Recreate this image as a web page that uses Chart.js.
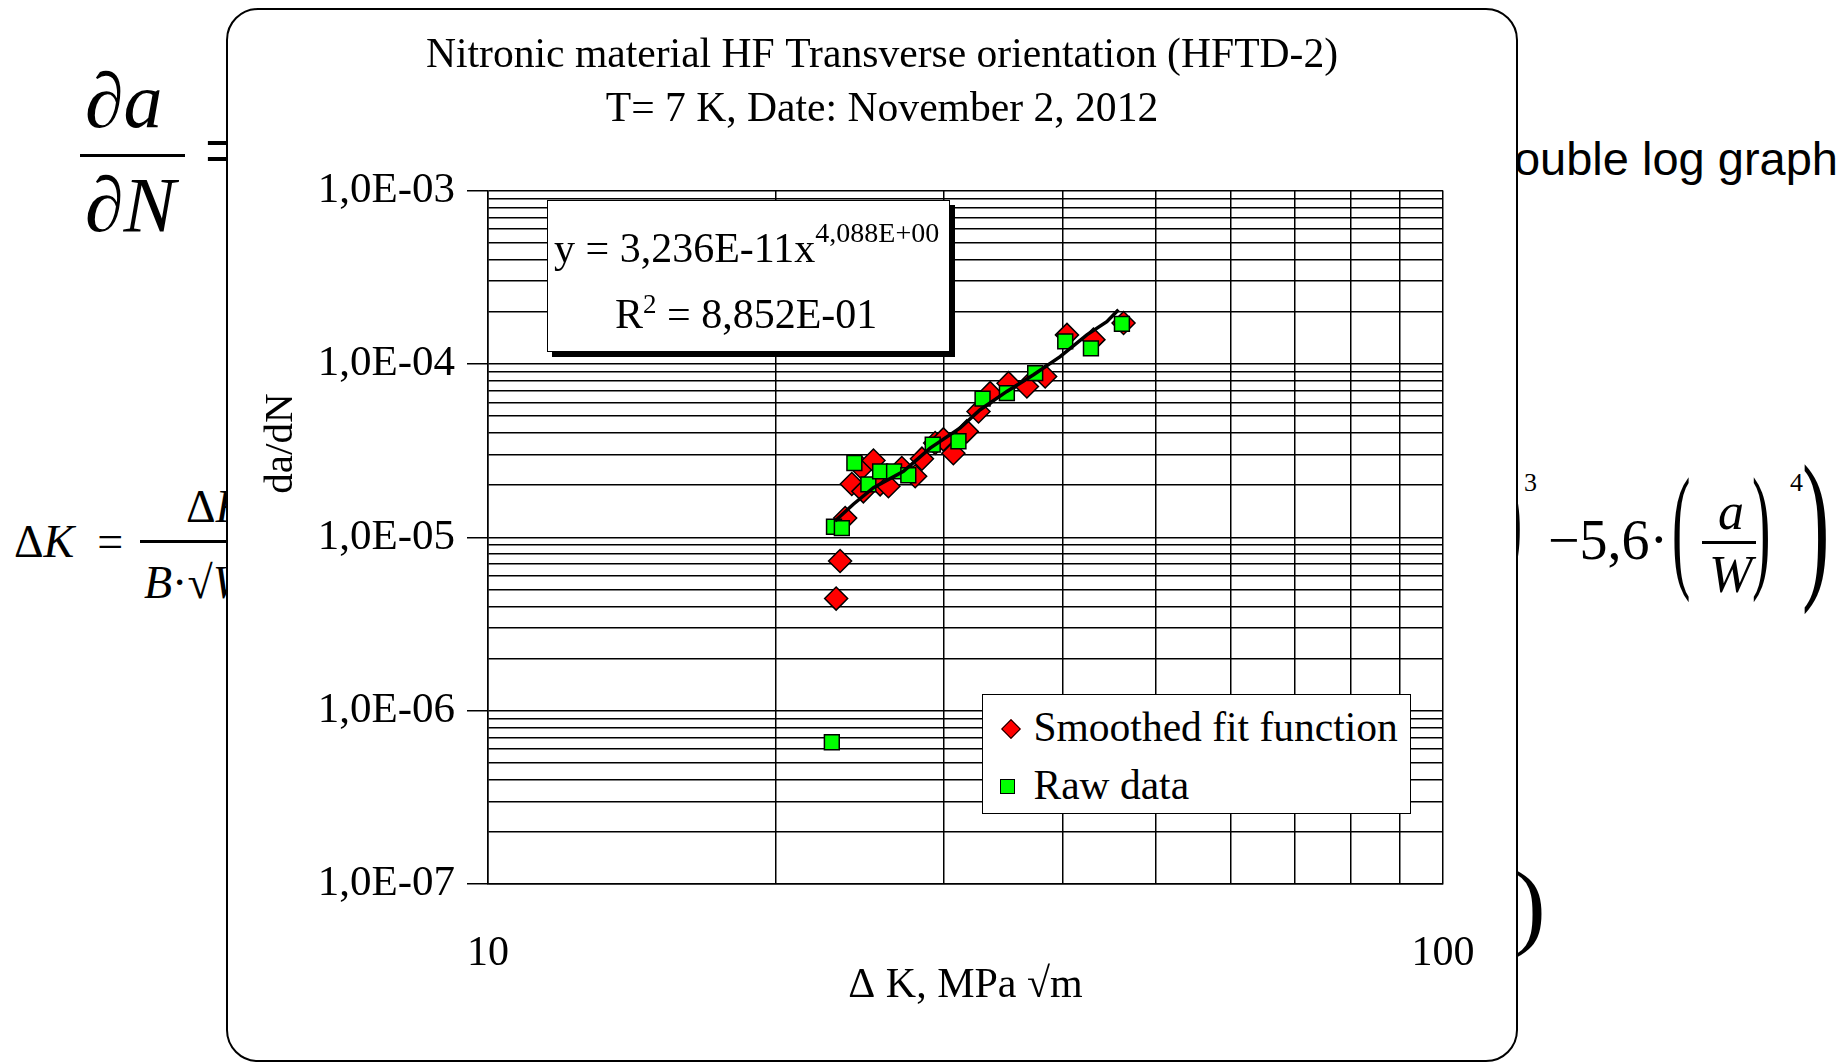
<!DOCTYPE html>
<html>
<head>
<meta charset="utf-8">
<title>Nitronic HFTD-2 crack growth</title>
<script src="https://cdn.jsdelivr.net/npm/chart.js@4.4.0/dist/chart.umd.min.js"></script>
<style>
  html, body { margin: 0; padding: 0; background: #fff; }
  body { width: 1848px; height: 1063px; position: relative; overflow: hidden;
         font-family: "Liberation Serif", "Times New Roman", serif; color: #000; }
  .bg { position: absolute; white-space: nowrap; line-height: 1; }
  .it { font-style: italic; }
  .thin { transform-origin: 0 0; }
  .bar { position: absolute; background: #000; }
  .card { position: absolute; left: 226px; top: 8px; width: 1292px; height: 1054px; box-sizing: border-box;
          border: 2.5px solid #000; border-radius: 32px; background: #fff; }
  #chart { position: absolute; left: 0; top: 0; }
  .eqbox { position: absolute; left: 547px; top: 200px; width: 403px; height: 152px; box-sizing: border-box;
           border: 1.5px solid #000; background: #fff; box-shadow: 5px 5px 0 #000;
           font-size: 42px; line-height: 42px; white-space: nowrap; }
  .eqbox span.line { position: absolute; }
  .sup { font-size: 28px; line-height: 0; vertical-align: 20px; }
  .sup2 { font-size: 27px; line-height: 0; vertical-align: 15px; }
  .legend { position: absolute; left: 982px; top: 694px; width: 429px; height: 120px; box-sizing: border-box;
            border: 1.5px solid #000; background: #fff; font-size: 41.5px; line-height: 41.5px; white-space: nowrap; }
  .legend .mk { position: absolute; box-sizing: border-box; border: 1.5px solid #000; }
  .legend .tx { position: absolute; }
</style>
</head>
<body>
<!-- slide formulas behind the chart card -->
<span class="bg it" style="left:85px; top:62px; font-size:78px">∂a</span>
<div class="bar" style="left:80px; top:154px; width:105px; height:3px"></div>
<span class="bg it" style="left:85px; top:166px; font-size:78px">∂N</span>
<span class="bg" style="left:204px; top:112px; font-size:78px">=</span>

<span class="bg" style="left:14px; top:519px; font-size:46px">Δ<i>K</i>&nbsp;&nbsp;=</span>
<div class="bar" style="left:140px; top:540px; width:110px; height:2.5px"></div>
<span class="bg" style="left:186px; top:484px; font-size:46px">Δ<i>F</i></span>
<span class="bg" style="left:144px; top:560px; font-size:46px"><i>B</i>·√<i>W</i></span>

<span class="bg" style="right:10px; top:135px; font-size:47px; font-family:'Liberation Sans', Arial, sans-serif">double log graph</span>
<span class="bg thin" style="left:1501px; top:452px; font-size:130px; transform:scaleX(0.5)">)</span>
<span class="bg" style="left:1524px; top:470px; font-size:26px">3</span>
<span class="bg" style="left:1548px; top:512px; font-size:56px">−5,6·</span>
<span class="bg thin" style="left:1672px; top:458px; font-size:138px; transform:scaleX(0.4)">(</span>
<span class="bg it" style="left:1718px; top:486px; font-size:52px">a</span>
<div class="bar" style="left:1702px; top:541px; width:54px; height:2.5px"></div>
<span class="bg it" style="left:1709px; top:549px; font-size:52px">W</span>
<span class="bg thin" style="left:1752px; top:458px; font-size:138px; transform:scaleX(0.4)">)</span>
<span class="bg" style="left:1790px; top:470px; font-size:26px">4</span>
<span class="bg thin" style="left:1802px; top:441px; font-size:165px; transform:scaleX(0.5)">)</span>
<span class="bg" style="left:1514px; top:858px; font-size:95px">)</span>

<div class="card"></div>
<canvas id="chart" width="1848" height="1063"></canvas>

<div class="eqbox">
  <span class="line" style="left:6px; top:26px">y = 3,236E-11x<span class="sup">4,088E+00</span></span>
  <span class="line" style="left:67px; top:92px">R<span class="sup2">2</span> = 8,852E-01</span>
</div>
<div class="legend" id="legend"></div>

<script>
const chartTitle = ['Nitronic material HF Transverse orientation (HFTD-2)', 'T= 7 K, Date: November 2, 2012'];
const xTitle = 'Δ K, MPa √m';
const yTitle = 'da/dN';
const seriesNames = ['Smoothed fit function', 'Raw data'];

// grid lines and labelled ticks
const xGridValues = [10, 20, 30, 40, 50, 60, 70, 80, 90, 100];
const xTickValues = [10, 100];
const xTickLabels = ['10', '100'];
const yDecades = [1e-7, 1e-6, 1e-5, 1e-4];
const yMantissas = [1, 2, 3, 4, 5, 6, 7, 8, 9];
const yTickValues = [1e-7, 1e-6, 1e-5, 1e-4, 1e-3];
const yTickLabels = ['1,0E-07', '1,0E-06', '1,0E-05', '1,0E-04', '1,0E-03'];

// smoothed fit function (red diamonds)
const smoothK = [23.15, 23.37, 23.66, 24.04, 24.63, 24.72, 25.33, 25.74, 26.26, 27.12, 28.01, 28.47,
                 29.39, 29.98, 30.71, 31.72, 32.63, 33.56, 35.08, 36.67, 38.32, 40.39, 43.05, 46.29];
const smoothRate = [4.43e-6, 7.30e-6, 1.29e-5, 2.03e-5, 2.51e-5, 1.84e-5, 2.77e-5, 2.02e-5, 1.97e-5, 2.51e-5, 2.25e-5, 2.84e-5,
                    3.50e-5, 3.67e-5, 3.05e-5, 4.08e-5, 5.32e-5, 6.78e-5, 7.74e-5, 7.41e-5, 8.46e-5, 1.47e-4, 1.38e-4, 1.72e-4];

// raw data (green squares)
const rawK = [22.91, 23.03, 23.47, 24.19, 25.02, 25.74, 26.62, 27.55, 29.22, 31.09, 32.95, 34.94, 37.41, 40.22, 42.79, 46.11];
const rawRate = [6.57e-7, 1.15e-5, 1.13e-5, 2.68e-5, 2.02e-5, 2.40e-5, 2.40e-5, 2.28e-5, 3.42e-5, 3.58e-5,
                 6.30e-5, 6.78e-5, 8.84e-5, 1.35e-4, 1.23e-4, 1.70e-4];

// power-law trend line
const trendK = [23.09, 24.13, 25.33, 27.23, 29.04, 31.22, 32.76, 34.94, 37.26, 39.73, 42.37, 44.46, 45.73];
const trendRate = [1.24e-5, 1.55e-5, 1.93e-5, 2.40e-5, 3.27e-5, 4.27e-5, 5.44e-5, 6.94e-5, 8.65e-5, 1.10e-4, 1.47e-4, 1.75e-4, 2.05e-4];

const FONT = '"Liberation Serif", "Times New Roman", serif';
Chart.defaults.font.family = FONT;
Chart.defaults.color = '#000';

const yGridValues = yDecades.flatMap(d => yMantissas.map(m => m * d)).concat([1e-3]);

function isDecade(v) {
    const l = Math.log10(v);
    return Math.abs(l - Math.round(l)) < 1e-6;
}
function labelFor(values, labels, v) {
    const i = values.findIndex(t => Math.abs(Math.log10(t) - Math.log10(v)) < 1e-6);
    return i < 0 ? '' : labels[i];
}
const toPoints = (xs, ys) => xs.map((x, i) => ({ x, y: ys[i] }));

const yTitlePlugin = {
    id: 'yTitle',
    afterDraw(chart) {
        const ctx = chart.ctx;
        const area = chart.chartArea;
        ctx.save();
        ctx.translate(area.left - 207, area.top + 253);
        ctx.rotate(-Math.PI / 2);
        ctx.font = '41px ' + FONT;
        ctx.fillStyle = '#000';
        ctx.textAlign = 'center';
        ctx.textBaseline = 'middle';
        ctx.fillText(yTitle, 0, 0);
        ctx.restore();
    }
};

const chart = new Chart(document.getElementById('chart'), {
    type: 'scatter',
    data: {
        datasets: [
            { label: 'trend', data: toPoints(trendK, trendRate), showLine: true, borderColor: '#000',
              borderWidth: 3.5, pointRadius: 0, order: 0 },
            { label: seriesNames[1], data: toPoints(rawK, rawRate), pointStyle: 'rect', pointRadius: 10.5,
              backgroundColor: '#00ff00', borderColor: '#000', borderWidth: 1.5, order: 1 },
            { label: seriesNames[0], data: toPoints(smoothK, smoothRate), pointStyle: 'rectRot', pointRadius: 11.5,
              backgroundColor: '#ff0000', borderColor: '#000', borderWidth: 1.5, order: 2 }
        ]
    },
    options: {
        responsive: false,
        animation: false,
        layout: { padding: { top: 10, left: 321, right: 405, bottom: 0 } },
        plugins: {
            legend: { display: false },
            tooltip: { enabled: false },
            title: {
                display: true, text: chartTitle, color: '#000',
                font: { size: 41.6, weight: 'normal', lineHeight: 1.29 },
                padding: { top: 19.7, bottom: 53.5 }
            }
        },
        scales: {
            x: {
                type: 'logarithmic', min: 10, max: 100,
                afterBuildTicks: s => { s.ticks = xGridValues.map(v => ({ value: v })); },
                afterFit: s => { s.height = 179; },
                grid: { color: '#000', lineWidth: 1.5, drawTicks: false },
                border: { color: '#000', width: 1.5 },
                ticks: { autoSkip: false, maxRotation: 0, padding: 44.5, font: { size: 42 },
                         callback: v => labelFor(xTickValues, xTickLabels, v) },
                title: { display: true, text: xTitle, font: { size: 42 }, padding: { top: 0, bottom: 51.5 } }
            },
            y: {
                type: 'logarithmic', min: 1e-7, max: 1e-3,
                afterBuildTicks: s => { s.ticks = yGridValues.map(v => ({ value: v })); },
                afterFit: s => { s.width = 167; },
                grid: { color: '#000', lineWidth: 1.5, tickLength: 21,
                        tickColor: c => (c.tick && isDecade(c.tick.value)) ? '#000' : 'rgba(0,0,0,0)' },
                border: { color: '#000', width: 1.5 },
                ticks: { autoSkip: false, padding: 12, font: { size: 43 },
                         callback: v => labelFor(yTickValues, yTickLabels, v) }
            }
        }
    },
    plugins: [yTitlePlugin]
});

// legend box inside the plot, built from the two marker datasets
const legendEl = document.getElementById('legend');
const legendRows = [
    { mk: { left: 20.5, top: 26.5, size: 14, rot: 45 }, tx: { left: 50.5, top: 12.4 } },
    { mk: { left: 17.3, top: 84.3, size: 15, rot: 0 }, tx: { left: 50.5, top: 70.4 } }
];
seriesNames.forEach((name, i) => {
    const ds = chart.data.datasets.find(d => d.label === name);
    const row = legendRows[i];
    const mk = document.createElement('div');
    mk.className = 'mk';
    mk.style.cssText = `left:${row.mk.left}px; top:${row.mk.top}px; width:${row.mk.size}px; height:${row.mk.size}px;` +
        `background:${ds.backgroundColor}; transform:rotate(${row.mk.rot}deg)`;
    const tx = document.createElement('span');
    tx.className = 'tx';
    tx.style.cssText = `left:${row.tx.left}px; top:${row.tx.top}px`;
    tx.textContent = name;
    legendEl.appendChild(mk);
    legendEl.appendChild(tx);
});
</script>
</body>
</html>
